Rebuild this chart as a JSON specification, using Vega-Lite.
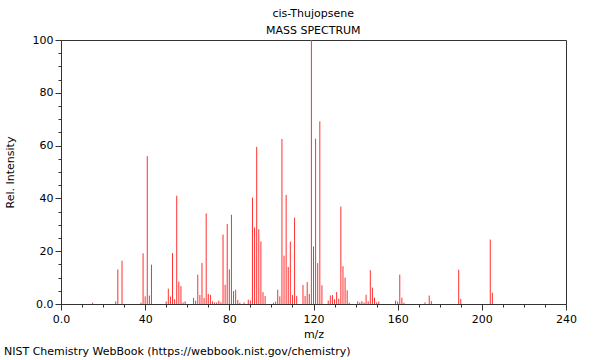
{
  "$schema": "https://vega.github.io/schema/vega-lite/v6.json",
  "background": "white",
  "padding": {"left": 3, "top": 7, "right": 5, "bottom": 2},
  "title": {
    "text": ["cis-Thujopsene", "MASS SPECTRUM"],
    "font": "DejaVu Sans",
    "fontSize": 11,
    "fontWeight": "normal",
    "color": "black",
    "lineHeight": 17,
    "anchor": "middle",
    "offset": -2,
    "dx": 23
  },
  "config": {
    "font": "DejaVu Sans",
    "view": {"stroke": "#333", "strokeWidth": 1},
    "axis": {
      "labelFont": "DejaVu Sans",
      "labelFontSize": 11,
      "labelColor": "black",
      "titleFont": "DejaVu Sans",
      "titleFontSize": 11,
      "titleFontWeight": "normal",
      "titleColor": "black",
      "domainColor": "#333",
      "tickColor": "#333",
      "grid": false
    }
  },
  "data": {
    "values": [
      {"mz": 15, "i": 0.5}, {"mz": 26, "i": 1}, {"mz": 27, "i": 13.1}, {"mz": 29, "i": 16.4},
      {"mz": 38, "i": 0.5}, {"mz": 39, "i": 19.2}, {"mz": 40, "i": 2.9}, {"mz": 41, "i": 56},
      {"mz": 42, "i": 3.2}, {"mz": 43, "i": 14.9}, {"mz": 50, "i": 1}, {"mz": 51, "i": 5.8},
      {"mz": 52, "i": 2.8}, {"mz": 53, "i": 19.3}, {"mz": 54, "i": 1.8}, {"mz": 55, "i": 41},
      {"mz": 56, "i": 8.5}, {"mz": 57, "i": 6.8}, {"mz": 58, "i": 0.6}, {"mz": 59, "i": 1},
      {"mz": 63, "i": 2.3}, {"mz": 64, "i": 1.3}, {"mz": 65, "i": 11.1}, {"mz": 66, "i": 3.4},
      {"mz": 67, "i": 15.5}, {"mz": 68, "i": 2.3}, {"mz": 69, "i": 34.3}, {"mz": 70, "i": 3.8},
      {"mz": 71, "i": 3.5}, {"mz": 72, "i": 1}, {"mz": 73, "i": 0.6}, {"mz": 74, "i": 0.6},
      {"mz": 75, "i": 1.3}, {"mz": 76, "i": 0.6}, {"mz": 77, "i": 26.3}, {"mz": 78, "i": 7.3},
      {"mz": 79, "i": 30.3}, {"mz": 80, "i": 13.1}, {"mz": 81, "i": 33.8}, {"mz": 82, "i": 4.9},
      {"mz": 83, "i": 5.4}, {"mz": 84, "i": 1.5}, {"mz": 85, "i": 0.5}, {"mz": 87, "i": 0.6},
      {"mz": 89, "i": 1.6}, {"mz": 90, "i": 1.3}, {"mz": 91, "i": 40.3}, {"mz": 92, "i": 29},
      {"mz": 93, "i": 59.5}, {"mz": 94, "i": 28.3}, {"mz": 95, "i": 23.7}, {"mz": 96, "i": 4.5},
      {"mz": 97, "i": 3}, {"mz": 101, "i": 0.5}, {"mz": 102, "i": 0.9}, {"mz": 103, "i": 5.4},
      {"mz": 104, "i": 2.9}, {"mz": 105, "i": 62.5}, {"mz": 106, "i": 18.3}, {"mz": 107, "i": 41.3},
      {"mz": 108, "i": 14}, {"mz": 109, "i": 23.6}, {"mz": 110, "i": 3.4}, {"mz": 111, "i": 32.7},
      {"mz": 112, "i": 3}, {"mz": 115, "i": 7.2}, {"mz": 116, "i": 3}, {"mz": 117, "i": 8.3},
      {"mz": 118, "i": 3.8}, {"mz": 119, "i": 100}, {"mz": 120, "i": 21.8}, {"mz": 121, "i": 62.6},
      {"mz": 122, "i": 15.5}, {"mz": 123, "i": 69.2}, {"mz": 124, "i": 7.1}, {"mz": 127, "i": 1.3},
      {"mz": 128, "i": 3.2}, {"mz": 129, "i": 3.4}, {"mz": 130, "i": 1.8}, {"mz": 131, "i": 4.5},
      {"mz": 132, "i": 2}, {"mz": 133, "i": 36.9}, {"mz": 134, "i": 14.3}, {"mz": 135, "i": 10},
      {"mz": 136, "i": 5.2}, {"mz": 137, "i": 0.5}, {"mz": 141, "i": 1}, {"mz": 142, "i": 0.6},
      {"mz": 143, "i": 1.1}, {"mz": 144, "i": 0.6}, {"mz": 145, "i": 3.5}, {"mz": 146, "i": 1},
      {"mz": 147, "i": 12.8}, {"mz": 148, "i": 6.2}, {"mz": 149, "i": 2.4}, {"mz": 150, "i": 0.6},
      {"mz": 151, "i": 0.9}, {"mz": 159, "i": 1.3}, {"mz": 160, "i": 0.9}, {"mz": 161, "i": 11.1},
      {"mz": 162, "i": 2.4}, {"mz": 163, "i": 0.5}, {"mz": 173, "i": 0.6}, {"mz": 175, "i": 3.2},
      {"mz": 176, "i": 1.1}, {"mz": 189, "i": 13}, {"mz": 190, "i": 1.9}, {"mz": 204, "i": 24.4},
      {"mz": 205, "i": 4.3}
    ]
  },
  "vconcat": [
    {
      "width": 505,
      "height": 264,
      "title": {
        "text": "NIST Chemistry WebBook (https://webbook.nist.gov/chemistry)",
        "orient": "bottom",
        "anchor": "start",
        "frame": "bounds",
        "font": "DejaVu Sans",
        "fontSize": 11,
        "fontWeight": "normal",
        "color": "black",
        "offset": 7
      },
      "mark": {"type": "rule", "color": "#ff3030", "strokeWidth": 1},
      "encoding": {
        "x": {
          "field": "mz",
          "type": "quantitative",
          "scale": {"domain": [0, 240], "nice": false, "zero": false},
          "axis": {
            "title": "m/z",
            "values": [0, 10, 20, 30, 40, 50, 60, 70, 80, 90, 100, 110, 120, 130, 140, 150, 160, 170, 180, 190, 200, 210, 220, 230, 240],
            "labelExpr": "datum.value % 40 === 0 ? (datum.value === 0 ? '0.0' : datum.label) : ''",
            "tickSize": {"condition": {"test": "datum.value % 40 === 0", "value": 6}, "value": 3},
            "labelPadding": 3,
            "titlePadding": 4,
            "labelFlush": false
          }
        },
        "y": {
          "field": "i",
          "type": "quantitative",
          "scale": {"domain": [0, 100], "nice": false},
          "axis": {
            "title": "Rel. Intensity",
            "values": [0, 5, 10, 15, 20, 25, 30, 35, 40, 45, 50, 55, 60, 65, 70, 75, 80, 85, 90, 95, 100],
            "labelExpr": "datum.value % 20 === 0 ? (datum.value === 0 ? '0.0' : datum.label) : ''",
            "tickSize": {"condition": {"test": "datum.value % 20 === 0", "value": 6}, "value": 3},
            "labelPadding": 2,
            "titlePadding": 17,
            "labelFlush": false
          }
        },
        "y2": {"datum": 0}
      }
    }
  ]
}
